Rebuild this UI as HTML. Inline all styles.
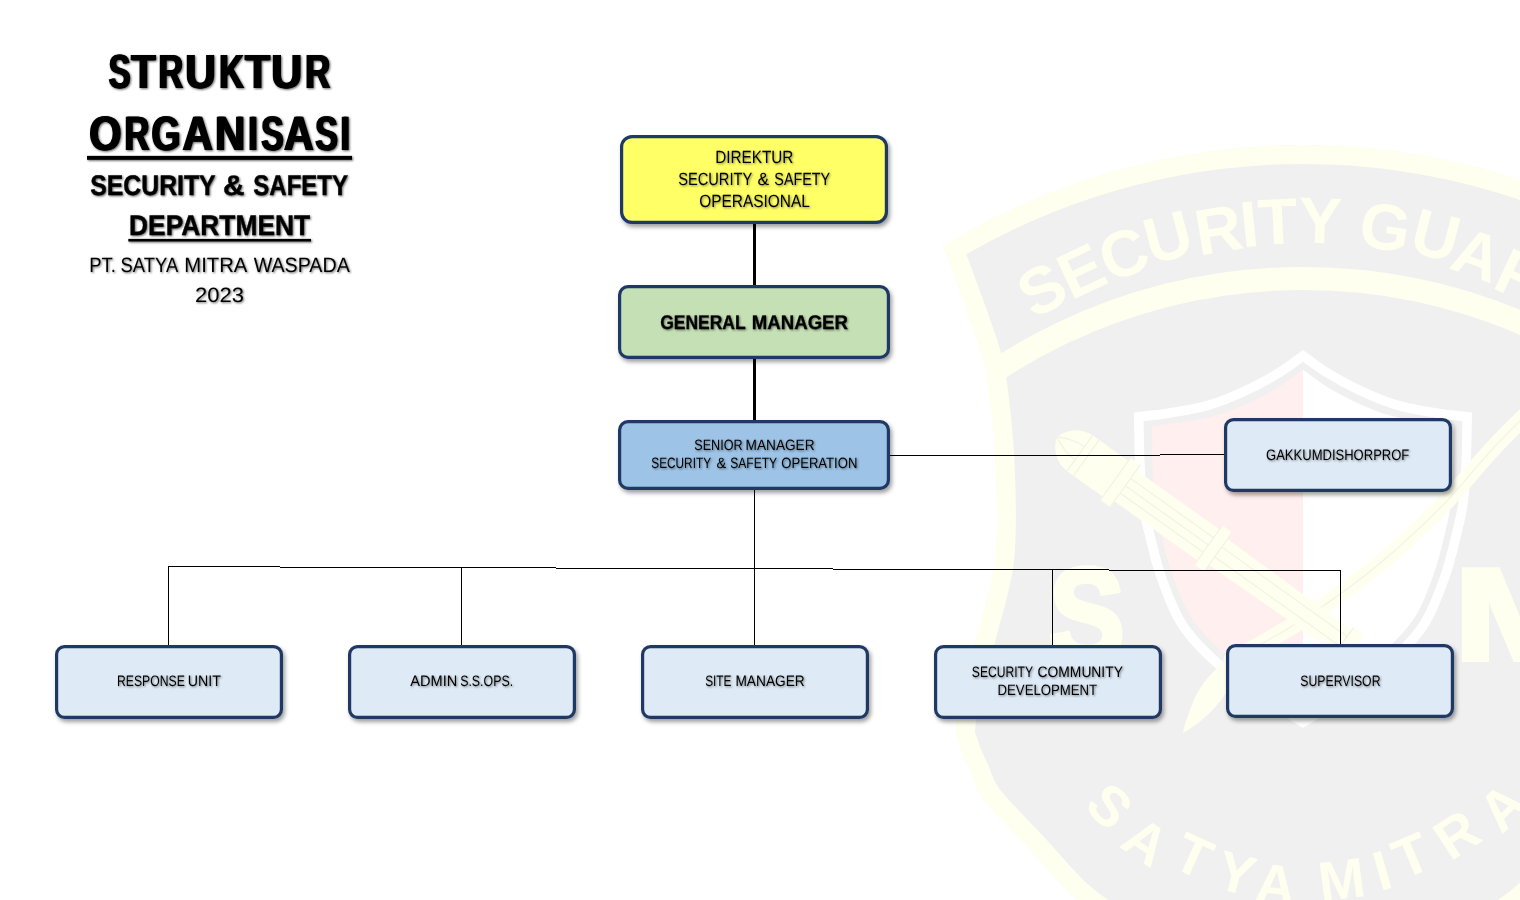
<!DOCTYPE html>
<html><head><meta charset="utf-8"><title>Struktur Organisasi</title>
<style>
html,body{margin:0;padding:0;background:#fff;}
body{width:1520px;height:900px;overflow:hidden;font-family:"Liberation Sans",sans-serif;}
svg{display:block;position:absolute;left:0;top:0;}
text{font-family:"Liberation Sans",sans-serif;fill:#000;text-rendering:geometricPrecision;}
.title{filter:drop-shadow(1.4px 1.6px 1.1px rgba(0,0,0,.6));}
.boxt{filter:drop-shadow(1px 1.2px 0.8px rgba(0,0,0,.5));}
.box rect{stroke:#1F3864;stroke-width:3.2;}
.box{filter:drop-shadow(2px 3px 2.2px rgba(0,0,0,.38));}
</style></head>
<body>
<svg width="1520" height="900" viewBox="0 0 1520 900">
<defs><filter id="fb" x="-5%" y="-5%" width="110%" height="110%"><feOffset in="SourceGraphic" dx="-0.8" result="a"/><feOffset in="SourceGraphic" dx="0.8" result="b"/><feMerge><feMergeNode in="a"/><feMergeNode in="SourceGraphic"/><feMergeNode in="b"/></feMerge></filter></defs>
<g id="wm">
<defs><clipPath id="cb"><path d="M943 246A692 692 0 0 1 1663.0 246C1658.0 259.7 1639.8 308.5 1633.0 328.0C1626.2 347.5 1625.0 349.7 1622.0 363.0C1619.0 376.3 1617.0 389.5 1615.0 408.0C1613.0 426.5 1610.7 448.7 1610.0 474.0C1609.3 499.3 1607.7 532.3 1611.0 560.0C1614.3 587.7 1623.7 613.3 1630.0 640.0C1636.3 666.7 1646.3 702.2 1649.0 720.0C1651.7 737.8 1648.3 738.2 1646.0 747.0C1643.7 755.8 1639.0 764.2 1635.0 773.0C1631.0 781.8 1631.8 787.2 1622.0 800.0C1612.2 812.8 1591.5 833.3 1576.0 850.0C1560.5 866.7 1544.0 886.8 1529.0 900.0C1514.0 913.2 1502.8 919.6 1486.0 929.0C1469.2 938.3 1448.1 948.7 1428.2 955.9C1408.3 963.2 1387.4 968.8 1366.6 972.4C1345.7 976.1 1313.6 977.1 1303.0 978.0C1292.4 977.1 1260.3 976.1 1239.4 972.4C1218.6 968.8 1197.7 963.2 1177.8 955.9C1157.9 948.7 1136.8 938.3 1120.0 929.0C1103.2 919.6 1092.0 913.2 1077.0 900.0C1062.0 886.8 1045.5 866.7 1030.0 850.0C1014.5 833.3 993.8 812.8 984.0 800.0C974.2 787.2 975.0 781.8 971.0 773.0C967.0 764.2 962.3 755.8 960.0 747.0C957.7 738.2 954.3 737.8 957.0 720.0C959.7 702.2 969.7 666.7 976.0 640.0C982.3 613.3 991.7 587.7 995.0 560.0C998.3 532.3 996.7 499.3 996.0 474.0C995.3 448.7 993.0 426.5 991.0 408.0C989.0 389.5 987.0 376.3 984.0 363.0C981.0 349.7 979.8 347.5 973.0 328.0C966.2 308.5 948.0 259.7 943.0 246.0Z"/></clipPath><clipPath id="cs"><path d="M1303.0 350.0C1298.6 353.1 1286.7 362.4 1276.8 368.5C1266.9 374.6 1255.0 381.1 1243.4 386.5C1231.9 391.9 1219.9 397.0 1207.5 400.6C1195.1 404.2 1181.2 406.3 1169.0 408.3C1156.8 410.3 1139.8 411.8 1134.0 412.5C1134.2 420.4 1134.3 445.1 1135.0 460.0C1135.7 474.9 1136.2 488.7 1138.0 502.0C1139.8 515.3 1142.7 526.7 1146.0 540.0C1149.3 553.3 1152.3 567.0 1158.0 582.0C1163.7 597.0 1169.7 615.0 1180.0 630.0C1190.3 645.0 1206.3 660.0 1220.0 672.0C1233.7 684.0 1248.2 692.7 1262.0 702.0C1275.8 711.3 1296.2 723.7 1303.0 728.0C1309.8 723.7 1330.2 711.3 1344.0 702.0C1357.8 692.7 1372.3 684.0 1386.0 672.0C1399.7 660.0 1415.7 645.0 1426.0 630.0C1436.3 615.0 1442.3 597.0 1448.0 582.0C1453.7 567.0 1456.7 553.3 1460.0 540.0C1463.3 526.7 1466.2 515.3 1468.0 502.0C1469.8 488.7 1470.3 474.9 1471.0 460.0C1471.7 445.1 1471.8 420.4 1472.0 412.5C1466.2 411.8 1449.2 410.3 1437.0 408.3C1424.8 406.3 1410.9 404.2 1398.5 400.6C1386.1 397.0 1374.1 391.9 1362.6 386.5C1351.0 381.1 1339.1 374.6 1329.2 368.5C1319.3 362.4 1307.4 353.1 1303.0 350.0Z"/></clipPath><clipPath id="ci"><path d="M1303.0 369.8C1299.1 372.6 1288.5 380.9 1279.6 386.4C1270.7 391.8 1260.0 397.7 1249.7 402.5C1239.4 407.2 1228.7 411.8 1217.6 415.1C1206.5 418.3 1194.2 420.2 1183.2 421.9C1172.3 423.7 1157.1 425.1 1151.9 425.7C1152.1 432.8 1152.2 454.8 1152.8 468.2C1153.4 481.5 1153.9 493.8 1155.5 505.7C1157.1 517.6 1159.7 527.8 1162.6 539.7C1165.6 551.6 1168.3 563.8 1173.4 577.2C1178.4 590.6 1183.8 606.7 1193.0 620.1C1202.3 633.6 1216.6 647.0 1228.8 657.7C1241.0 668.4 1254.0 676.2 1266.3 684.5C1278.7 692.9 1296.9 703.9 1303.0 707.8C1309.1 703.9 1327.3 692.9 1339.7 684.5C1352.0 676.2 1365.0 668.4 1377.2 657.7C1389.4 647.0 1403.7 633.6 1413.0 620.1C1422.2 606.7 1427.6 590.6 1432.6 577.2C1437.7 563.8 1440.4 551.6 1443.4 539.7C1446.3 527.8 1448.9 517.6 1450.5 505.7C1452.1 493.8 1452.6 481.5 1453.2 468.2C1453.8 454.8 1453.9 432.8 1454.1 425.7C1448.9 425.1 1433.7 423.7 1422.8 421.9C1411.8 420.2 1399.5 418.3 1388.4 415.1C1377.3 411.8 1366.6 407.2 1356.3 402.5C1346.0 397.7 1335.3 391.8 1326.4 386.4C1317.5 380.9 1306.9 372.6 1303.0 369.8Z"/></clipPath>
</defs>
<g clip-path="url(#cb)">
<path d="M943 246A692 692 0 0 1 1663.0 246C1658.0 259.7 1639.8 308.5 1633.0 328.0C1626.2 347.5 1625.0 349.7 1622.0 363.0C1619.0 376.3 1617.0 389.5 1615.0 408.0C1613.0 426.5 1610.7 448.7 1610.0 474.0C1609.3 499.3 1607.7 532.3 1611.0 560.0C1614.3 587.7 1623.7 613.3 1630.0 640.0C1636.3 666.7 1646.3 702.2 1649.0 720.0C1651.7 737.8 1648.3 738.2 1646.0 747.0C1643.7 755.8 1639.0 764.2 1635.0 773.0C1631.0 781.8 1631.8 787.2 1622.0 800.0C1612.2 812.8 1591.5 833.3 1576.0 850.0C1560.5 866.7 1544.0 886.8 1529.0 900.0C1514.0 913.2 1502.8 919.6 1486.0 929.0C1469.2 938.3 1448.1 948.7 1428.2 955.9C1408.3 963.2 1387.4 968.8 1366.6 972.4C1345.7 976.1 1313.6 977.1 1303.0 978.0C1292.4 977.1 1260.3 976.1 1239.4 972.4C1218.6 968.8 1197.7 963.2 1177.8 955.9C1157.9 948.7 1136.8 938.3 1120.0 929.0C1103.2 919.6 1092.0 913.2 1077.0 900.0C1062.0 886.8 1045.5 866.7 1030.0 850.0C1014.5 833.3 993.8 812.8 984.0 800.0C974.2 787.2 975.0 781.8 971.0 773.0C967.0 764.2 962.3 755.8 960.0 747.0C957.7 738.2 954.3 737.8 957.0 720.0C959.7 702.2 969.7 666.7 976.0 640.0C982.3 613.3 991.7 587.7 995.0 560.0C998.3 532.3 996.7 499.3 996.0 474.0C995.3 448.7 993.0 426.5 991.0 408.0C989.0 389.5 987.0 376.3 984.0 363.0C981.0 349.7 979.8 347.5 973.0 328.0C966.2 308.5 948.0 259.7 943.0 246.0Z" fill="#F0F0F1" stroke="#FEFFEE" stroke-width="38"/>
<path d="M883.0 468.4A559.5 559.5 0 0 1 1723.0 468.4" fill="none" stroke="#FEFFEE" stroke-width="23"/>
</g>
<g font-size="65" font-weight="bold" text-anchor="middle" style="fill:#FEFFEE">
<text transform="translate(1041.4 288.7) rotate(-29.9)" y="23.3" style="fill:#FEFFEE">S</text>
<text transform="translate(1081 270.3) rotate(-25.2)" y="23.3" style="fill:#FEFFEE">E</text>
<text transform="translate(1123.4 252.8) rotate(-20.1)" y="23.3" style="fill:#FEFFEE">C</text>
<text transform="translate(1167.6 236.2) rotate(-15.0)" y="23.3" style="fill:#FEFFEE">U</text>
<text transform="translate(1218.3 228.8) rotate(-9.4)" y="23.3" style="fill:#FEFFEE">R</text>
<text transform="translate(1249.0 223.4) rotate(-5.9)" y="23.3" style="fill:#FEFFEE">I</text>
<text transform="translate(1277.8 220.7) rotate(-2.8)" y="23.3" style="fill:#FEFFEE">T</text>
<text transform="translate(1320.1 219.7) rotate(1.9)" y="23.3" style="fill:#FEFFEE">Y</text>
<text transform="translate(1385.5 226.2) rotate(9.1)" y="23.3" style="fill:#FEFFEE">G</text>
<text transform="translate(1436.2 234.5) rotate(14.7)" y="23.3" style="fill:#FEFFEE">U</text>
<text transform="translate(1477.6 253.8) rotate(19.6)" y="23.3" style="fill:#FEFFEE">A</text>
<text transform="translate(1522 276) rotate(25.1)" y="23.3" style="fill:#FEFFEE">R</text>
<text transform="translate(1566 303) rotate(30.9)" y="23.3" style="fill:#FEFFEE">D</text>
</g>
<text transform="translate(1049 660) scale(0.86 1)" font-size="132" font-weight="bold" style="fill:#FEFFEE;stroke:#FEFFEE;stroke-width:5">S</text>
<text transform="translate(1453 660) scale(1.3 1)" font-size="132" font-weight="bold" style="fill:#FEFFEE;stroke:#FEFFEE;stroke-width:4">M</text>
<g clip-path="url(#cs)"><path d="M1303.0 350.0C1298.6 353.1 1286.7 362.4 1276.8 368.5C1266.9 374.6 1255.0 381.1 1243.4 386.5C1231.9 391.9 1219.9 397.0 1207.5 400.6C1195.1 404.2 1181.2 406.3 1169.0 408.3C1156.8 410.3 1139.8 411.8 1134.0 412.5C1134.2 420.4 1134.3 445.1 1135.0 460.0C1135.7 474.9 1136.2 488.7 1138.0 502.0C1139.8 515.3 1142.7 526.7 1146.0 540.0C1149.3 553.3 1152.3 567.0 1158.0 582.0C1163.7 597.0 1169.7 615.0 1180.0 630.0C1190.3 645.0 1206.3 660.0 1220.0 672.0C1233.7 684.0 1248.2 692.7 1262.0 702.0C1275.8 711.3 1296.2 723.7 1303.0 728.0C1309.8 723.7 1330.2 711.3 1344.0 702.0C1357.8 692.7 1372.3 684.0 1386.0 672.0C1399.7 660.0 1415.7 645.0 1426.0 630.0C1436.3 615.0 1442.3 597.0 1448.0 582.0C1453.7 567.0 1456.7 553.3 1460.0 540.0C1463.3 526.7 1466.2 515.3 1468.0 502.0C1469.8 488.7 1470.3 474.9 1471.0 460.0C1471.7 445.1 1471.8 420.4 1472.0 412.5C1466.2 411.8 1449.2 410.3 1437.0 408.3C1424.8 406.3 1410.9 404.2 1398.5 400.6C1386.1 397.0 1374.1 391.9 1362.6 386.5C1351.0 381.1 1339.1 374.6 1329.2 368.5C1319.3 362.4 1307.4 353.1 1303.0 350.0Z" fill="#F0F0F1" stroke="#FFFFFF" stroke-width="19"/></g>
<g clip-path="url(#ci)"><rect x="1103.0" y="330" width="200" height="420" fill="#FFEFEF"/><rect x="1303.0" y="330" width="200" height="420" fill="#FFFFFF"/></g>
<path d="M1560 385C1553.3 391.0 1532.2 409.3 1520.0 421.0C1507.8 432.7 1500.3 440.5 1487.0 455.0C1473.7 469.5 1458.2 489.7 1440.0 508.0C1421.8 526.3 1398.7 547.8 1378.0 565.0C1357.3 582.2 1334.0 598.7 1316.0 611.0C1298.0 623.3 1284.0 630.8 1270.0 639.0C1256.0 647.2 1238.3 656.5 1232.0 660.0" fill="none" stroke="#FEFFEE" stroke-width="17" stroke-linecap="round"/>
<path d="M1560 385C1553.3 391.0 1532.2 409.3 1520.0 421.0C1507.8 432.7 1500.3 440.5 1487.0 455.0C1473.7 469.5 1458.2 489.7 1440.0 508.0C1421.8 526.3 1398.7 547.8 1378.0 565.0C1357.3 582.2 1334.0 598.7 1316.0 611.0C1298.0 623.3 1284.0 630.8 1270.0 639.0C1256.0 647.2 1238.3 656.5 1232.0 660.0" fill="none" stroke="#F3F3E6" stroke-width="1.2"/>
<path d="M1246 650C1228 656 1204 676 1194 700C1188 714 1184 726 1183 733C1192 728 1206 718 1216 706C1230 690 1240 672 1246 650Z" fill="#FEFFEE"/>
<g transform="translate(1057 437) rotate(35.5)"><path d="M0 0C4 -13 14 -21 28 -22L72 -22L72 -26L84 -26L84 -19L186 -19L186 -24L198 -24L198 -16L352 -14L352 -17L362 -17C370 -12 370 12 362 17L352 17L352 14L198 16L198 24L186 24L186 19L84 19L84 26L72 26L72 22L28 22C14 21 4 13 0 0Z" fill="#FEFFEE"/><path d="M28 -22V22M36 -22V22M72 -26V26M84 -26V26M186 -24V24M198 -24V24M84 -9H186M84 0H186M84 9H186M0 0C10 -6 20 -8 28 -8M0 0C10 6 20 8 28 8M198 -6H352M198 6H352M352 -17V17" fill="none" stroke="#F3F3E6" stroke-width="1.3"/></g>
<g font-size="56" font-weight="bold" text-anchor="middle">
<text transform="translate(1110 805.5) rotate(44.3)" y="20" style="fill:#FEFFEE">S</text>
<text transform="translate(1146.3 841) rotate(34.1)" y="20" style="fill:#FEFFEE">A</text>
<text transform="translate(1193.7 855.3) rotate(24.2)" y="20" style="fill:#FEFFEE">T</text>
<text transform="translate(1236.3 872.6) rotate(14.6)" y="20" style="fill:#FEFFEE">Y</text>
<text transform="translate(1275.8 883.7) rotate(6.2)" y="20" style="fill:#FEFFEE">A</text>
<text transform="translate(1341.5 879) rotate(-7.4)" y="20" style="fill:#FEFFEE">M</text>
<text transform="translate(1382 870) rotate(-16.0)" y="20" style="fill:#FEFFEE">I</text>
<text transform="translate(1411 855) rotate(-22.8)" y="20" style="fill:#FEFFEE">T</text>
<text transform="translate(1456.5 834) rotate(-33.3)" y="20" style="fill:#FEFFEE">R</text>
<text transform="translate(1502 806.6) rotate(-44.2)" y="20" style="fill:#FEFFEE">A</text>
</g>
</g>
<g id="lines" stroke="#000" shape-rendering="crispEdges" fill="none">
<line x1="754" y1="222" x2="754" y2="287" stroke-width="3"/>
<line x1="754" y1="357" x2="754" y2="422" stroke-width="3"/>
<line x1="754.5" y1="488" x2="754.5" y2="647" stroke-width="1"/>
<line x1="888" y1="455.5" x2="1160" y2="455.5" stroke-width="1"/>
<line x1="1160" y1="454.5" x2="1226" y2="454.5" stroke-width="1"/>
<path d="M168 566.5H280M280 567.5H556M556 568.5H833M833 569.5H1109M1109 570.5H1341" stroke-width="1"/>
<line x1="168.5" y1="566" x2="168.5" y2="647" stroke-width="1"/>
<line x1="461.5" y1="567" x2="461.5" y2="647" stroke-width="1"/>
<line x1="1052.5" y1="569" x2="1052.5" y2="647" stroke-width="1"/>
<line x1="1340.5" y1="570" x2="1340.5" y2="647" stroke-width="1"/>
</g>
<g class="box">
<rect x="621.6" y="136.6" width="264.8" height="85.8" rx="10.4" fill="#FFFF66"/>
<rect x="619.6" y="286.6" width="268.8" height="70.8" rx="8.4" fill="#C5E0B4"/>
<rect x="619.6" y="421.6" width="268.8" height="66.8" rx="8.4" fill="#9DC3E6"/>
<rect x="1225.6" y="419.6" width="224.8" height="70.8" rx="7.9" fill="#DEEAF6"/>
<rect x="56.6" y="646.6" width="224.8" height="70.8" rx="7.9" fill="#DEEAF6"/>
<rect x="349.6" y="646.6" width="224.8" height="70.8" rx="7.9" fill="#DEEAF6"/>
<rect x="642.6" y="646.6" width="224.8" height="70.8" rx="7.9" fill="#DEEAF6"/>
<rect x="935.6" y="646.6" width="224.8" height="70.8" rx="7.9" fill="#DEEAF6"/>
<rect x="1227.6" y="645.6" width="224.8" height="70.8" rx="7.9" fill="#DEEAF6"/>
</g>
<g class="title">
<g filter="url(#fb)">
<text transform="translate(108.66 88.00) scale(0.6786 1)" font-size="47.97" font-weight="bold">S</text>
<text transform="translate(131.35 88.00) scale(0.8285 1)" font-size="47.97" font-weight="bold">T</text>
<text transform="translate(158.42 88.00) scale(0.7094 1)" font-size="47.97" font-weight="bold">R</text>
<text transform="translate(185.26 88.00) scale(0.8810 1)" font-size="47.97" font-weight="bold">U</text>
<text transform="translate(219.23 88.00) scale(0.7068 1)" font-size="47.97" font-weight="bold">K</text>
<text transform="translate(244.94 88.00) scale(0.8532 1)" font-size="47.97" font-weight="bold">T</text>
<text transform="translate(271.13 88.00) scale(0.8914 1)" font-size="47.97" font-weight="bold">U</text>
<text transform="translate(305.19 88.00) scale(0.7193 1)" font-size="47.97" font-weight="bold">R</text>
<text transform="translate(89.20 150.10) scale(0.8590 1)" font-size="48.26" font-weight="bold">O</text>
<text transform="translate(124.49 150.10) scale(0.7150 1)" font-size="48.26" font-weight="bold">R</text>
<text transform="translate(151.47 150.10) scale(0.7739 1)" font-size="48.26" font-weight="bold">G</text>
<text transform="translate(182.55 150.10) scale(0.8710 1)" font-size="48.26" font-weight="bold">A</text>
<text transform="translate(214.90 150.10) scale(0.8671 1)" font-size="48.26" font-weight="bold">N</text>
<text transform="translate(248.32 150.10) scale(0.7049 1)" font-size="48.26" font-weight="bold">I</text>
<text transform="translate(261.33 150.10) scale(0.6952 1)" font-size="48.26" font-weight="bold">S</text>
<text transform="translate(284.08 150.10) scale(0.8494 1)" font-size="48.26" font-weight="bold">A</text>
<text transform="translate(315.22 150.10) scale(0.7022 1)" font-size="48.26" font-weight="bold">S</text>
<text transform="translate(340.42 150.10) scale(0.7049 1)" font-size="48.26" font-weight="bold">I</text>
</g>
<text transform="translate(90.28 195.20) scale(0.8752 1)" font-size="28.34" font-weight="bold" stroke="#000" stroke-width="0.43" stroke-linejoin="round">SECURITY</text>
<text transform="translate(223.11 195.20) scale(1.0504 1)" font-size="28.34" font-weight="bold" stroke="#000" stroke-width="0.39" stroke-linejoin="round">&amp;</text>
<text transform="translate(253.30 195.20) scale(0.8469 1)" font-size="28.34" font-weight="bold" stroke="#000" stroke-width="0.43" stroke-linejoin="round">SAFETY</text>
<text transform="translate(129.09 235.30) scale(0.9299 1)" font-size="28.34" font-weight="bold" stroke="#000" stroke-width="0.41" stroke-linejoin="round">DEPARTMENT</text>
<text transform="translate(89.22 272.30) scale(0.8892 1)" font-size="20.78">PT.</text>
<text transform="translate(120.57 272.30) scale(0.8864 1)" font-size="20.78">SATYA</text>
<text transform="translate(184.28 272.30) scale(0.9769 1)" font-size="20.78">MITRA</text>
<text transform="translate(253.70 272.30) scale(0.9460 1)" font-size="20.78">WASPADA</text>
<text transform="translate(194.90 302.20) scale(1.0674 1)" font-size="20.64">2023</text>
<rect x="87" y="155.9" width="265" height="3.9"/>
<rect x="128.3" y="238.9" width="182.7" height="2.6"/>
</g>
<g class="boxt">
<text transform="translate(715.28 162.90) scale(0.8624 1)" font-size="17.73">DIREKTUR</text>
<text transform="translate(678.14 184.80) scale(0.8263 1)" font-size="17.73">SECURITY</text>
<text transform="translate(757.50 184.80) scale(0.9732 1)" font-size="17.73">&amp;</text>
<text transform="translate(774.35 184.80) scale(0.8084 1)" font-size="17.73">SAFETY</text>
<text transform="translate(699.31 206.60) scale(0.8698 1)" font-size="17.73">OPERASIONAL</text>
<text transform="translate(660.25 329.25) scale(0.8831 1)" font-size="19.77" font-weight="bold" stroke="#000" stroke-width="0.32" stroke-linejoin="round">GENERAL</text>
<text transform="translate(751.84 329.25) scale(0.9413 1)" font-size="19.77" font-weight="bold" stroke="#000" stroke-width="0.31" stroke-linejoin="round">MANAGER</text>
<text transform="translate(694.23 450.40) scale(0.8432 1)" font-size="14.97">SENIOR</text>
<text transform="translate(745.61 450.40) scale(0.9111 1)" font-size="14.97">MANAGER</text>
<text transform="translate(651.27 468.40) scale(0.7899 1)" font-size="14.97">SECURITY</text>
<text transform="translate(716.39 468.40) scale(0.9696 1)" font-size="14.97">&amp;</text>
<text transform="translate(730.26 468.40) scale(0.8055 1)" font-size="14.97">SAFETY</text>
<text transform="translate(781.21 468.40) scale(0.8752 1)" font-size="14.97">OPERATION</text>
<text transform="translate(1266.05 459.50) scale(0.8618 1)" font-size="15.12">GAKKUMDISHORPROF</text>
<text transform="translate(117.02 685.60) scale(0.8070 1)" font-size="15.12">RESPONSE</text>
<text transform="translate(187.83 685.60) scale(0.9403 1)" font-size="15.12">UNIT</text>
<text transform="translate(410.30 685.60) scale(0.9634 1)" font-size="15.12">ADMIN</text>
<text transform="translate(460.14 685.60) scale(0.8185 1)" font-size="15.12">S.S.OPS.</text>
<text transform="translate(705.17 685.60) scale(0.7837 1)" font-size="15.12">SITE</text>
<text transform="translate(735.40 685.60) scale(0.9077 1)" font-size="15.12">MANAGER</text>
<text transform="translate(971.86 676.60) scale(0.8009 1)" font-size="15.12">SECURITY</text>
<text transform="translate(1037.61 676.60) scale(0.9151 1)" font-size="15.12">COMMUNITY</text>
<text transform="translate(997.55 694.70) scale(0.8797 1)" font-size="14.97">DEVELOPMENT</text>
<text transform="translate(1300.35 685.60) scale(0.8110 1)" font-size="15.12">SUPERVISOR</text>
</g>
</svg>
</body></html>
